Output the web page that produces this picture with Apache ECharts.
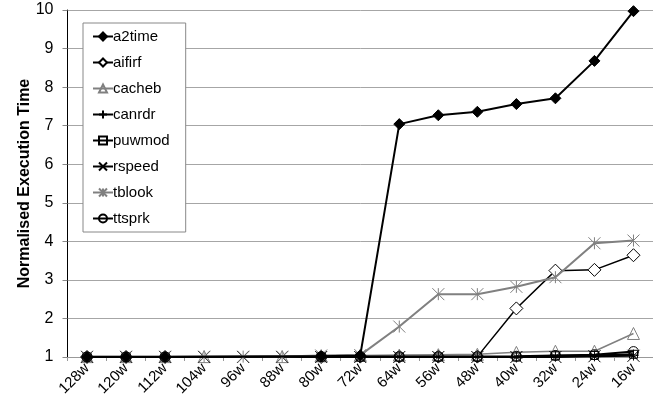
<!DOCTYPE html>
<html>
<head>
<meta charset="utf-8">
<script src="https://cdn.jsdelivr.net/npm/echarts@6/dist/echarts.min.js"></script>
<style>
  html, body { margin: 0; padding: 0; background: #fff; }
  #chart { width: 653px; height: 406px; }
</style>
</head>
<body>
<div id="chart"></div>
<script>
// Cache width along the x axis (largest to smallest)
const categories = ['128w','120w','112w','104w','96w','88w','80w','72w','64w','56w','48w','40w','32w','24w','16w'];
const yTicks = [1, 10, 1]; // min, max, interval

// Normalised execution time per benchmark (null = not measured)
const a2time = [1, 1, 1, null, null, null, 1.02, 1.04, 7.04, 7.27, 7.36, 7.56, 7.71, 8.68, 9.97];
const aifirf = [1, 1, 1, null, null, null, 1, 1.01, 1.01, 1.01, 1.01, 2.26, 3.24, 3.26, 3.64];
const cacheb = [1.01, 1.01, 1.01, 1.01, null, 1.01, 1.03, 1.04, 1.05, 1.06, 1.07, 1.12, 1.15, 1.15, 1.61];
const canrdr = [1, 1, 1, null, null, null, 1, 1, 1, 1, 1, 1, 1.02, 1.03, 1.05];
const puwmod = [1, 1, 1, null, null, null, 1, 1, 1, 1, 1, 1, 1.03, 1.04, 1.07];
const rspeed = [1, 1, 1, 1, 1, 1, 1, 1, 1, 1, 1, 1, 1, 1.02, 1.03];
const tblook = [1.01, 1.01, 1.01, 1.01, 1.01, 1.01, 1.04, 1.05, 1.79, 2.63, 2.63, 2.82, 3.07, 3.95, 4.02];
const ttsprk = [1, 1, 1, null, null, null, 1.01, 1.01, 1.01, 1.01, 1.01, 1.02, 1.04, 1.06, 1.14];

const FONT = 'Liberation Sans, Arial, sans-serif';
const CROSS = 'path://M0,0L10,10M10,0L0,10';
const PLUS = 'path://M5,0L5,10M0,5L10,5';
const STAR = 'path://M0,0L10,10M10,0L0,10M5,0L5,10';

function line(name, data, opts) {
  return {
    name: name,
    type: 'line',
    data: data,
    connectNulls: true,
    symbol: opts.symbol,
    symbolSize: opts.size,
    showAllSymbol: true,
    z: opts.z,
    lineStyle: { color: opts.color, width: opts.width || 1.5 },
    itemStyle: {
      color: opts.fill,
      borderColor: opts.color,
      borderWidth: 1
    },
    emphasis: { disabled: true },
    animation: false
  };
}

const chart = echarts.init(document.getElementById('chart'), null, { renderer: 'canvas' });
chart.setOption({
  backgroundColor: '#ffffff',
  textStyle: { fontFamily: FONT, color: '#000' },
  grid: { left: 67.5, right: -4, top: 10, bottom: 49, containLabel: false },
  legend: {
    orient: 'vertical',
    left: 83,
    top: 23,
    padding: [6, 16, 6, 9],
    itemGap: 11,
    itemWidth: 20,
    itemHeight: 10,
    backgroundColor: '#ffffff',
    borderColor: '#888',
    borderWidth: 1,
    borderRadius: 0,
    textStyle: { fontFamily: FONT, fontSize: 15, color: '#000', padding: [0, 0, 0, -5] },
    data: ['a2time','aifirf','cacheb','canrdr','puwmod','rspeed','tblook','ttsprk']
  },
  xAxis: {
    type: 'category',
    data: categories,
    boundaryGap: true,
    axisLine: { lineStyle: { color: '#999', width: 1 } },
    axisTick: { show: true, length: 4, lineStyle: { color: '#999' } },
    axisLabel: { rotate: 45, fontSize: 15, color: '#000', fontFamily: FONT, margin: 9, interval: 0 },
    splitLine: { show: false }
  },
  yAxis: {
    type: 'value',
    min: yTicks[0],
    max: yTicks[1],
    interval: yTicks[2],
    name: 'Normalised Execution Time',
    nameLocation: 'middle',
    nameGap: 35,
    nameMoveOverlap: false,
    nameTextStyle: { fontSize: 16, fontWeight: 'bold', color: '#000', fontFamily: FONT },
    axisLine: { show: true, lineStyle: { color: '#000', width: 1 } },
    axisTick: { show: true, length: 5, lineStyle: { color: '#888' } },
    axisLabel: { fontSize: 16, color: '#000', fontFamily: FONT, margin: 14 },
    splitLine: { show: true, lineStyle: { color: '#a6a6a6', width: 1 } }
  },
  series: [
    line('a2time', a2time, { symbol: 'diamond', size: 11, color: '#000', fill: '#000', width: 2, z: 9 }),
    line('aifirf', aifirf, { symbol: 'diamond', size: 13, color: '#000', fill: '#fff', z: 3 }),
    line('cacheb', cacheb, { symbol: 'triangle', size: 12, color: '#808080', fill: 'rgba(255,255,255,0)', z: 4 }),
    line('canrdr', canrdr, { symbol: PLUS, size: 11, color: '#000', fill: 'none', width: 2, z: 5 }),
    line('puwmod', puwmod, { symbol: 'rect', size: 8, color: '#000', fill: 'rgba(255,255,255,0)', width: 2, z: 6 }),
    line('rspeed', rspeed, { symbol: CROSS, size: 12, color: '#000', fill: 'none', width: 2, z: 7 }),
    line('tblook', tblook, { symbol: STAR, size: 12, color: '#808080', fill: 'none', width: 2, z: 8 }),
    line('ttsprk', ttsprk, { symbol: 'circle', size: 10, color: '#000', fill: 'rgba(255,255,255,0)', width: 2, z: 8 })
  ]
});
</script>
</body>
</html>
